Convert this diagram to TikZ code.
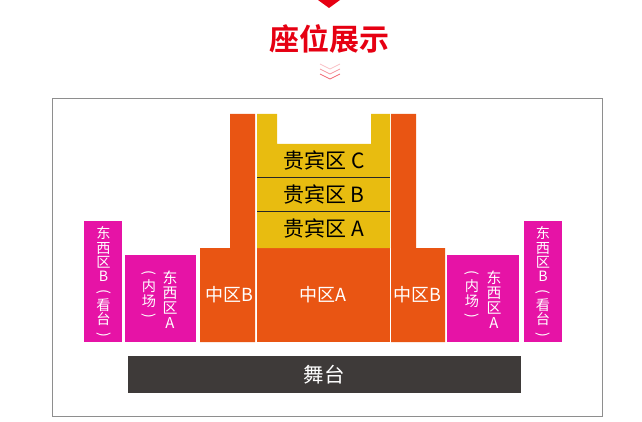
\documentclass[tikz,border=0pt]{standalone}
\usepackage{xcolor}
\usepackage{fontspec}
\setmainfont{Noto Sans CJK SC}
\newfontfamily\titlefont[BoldFont=Noto Sans CJK SC Bold]{Noto Sans CJK SC}
\usepackage{tikz}
\usetikzlibrary{positioning}
\definecolor{titlered}{HTML}{E60012}
\definecolor{zoneorange}{HTML}{E95513}
\definecolor{zonegold}{HTML}{E8BC10}
\definecolor{zonemagenta}{HTML}{E613A6}
\definecolor{stagegrey}{HTML}{3E3A39}
\definecolor{framegrey}{HTML}{8E8E8E}
\newcommand{\vopen}{\smash{\rotatebox[origin=c]{-90}{(}}}
\newcommand{\vclose}{\smash{\rotatebox[origin=c]{-90}{)}}}
\newcommand{\tightlines}{\lineskiplimit=-20pt\relax}
\tikzset{
	seatlabel/.style={text=white, inner sep=0pt, align=center, font=\fontsize{14.2}{14.3}\selectfont\tightlines},
	widelabel/.style={seatlabel, font=\fontsize{14.9}{15}\selectfont\tightlines},
	midlabel/.style={text=white, inner sep=0pt, font=\fontsize{18}{20}\selectfont},
	goldlabel/.style={text=black, inner sep=0pt, font=\fontsize{21}{23}\selectfont},
}
\begin{document}
\begin{tikzpicture}[x=1pt, y=-1pt]
			\useasboundingbox (0,0) rectangle (642,422);
			\pgfmathsetmacro{\floory}{342}
			\pgfmathsetmacro{\towery}{114}
			% top marker, title and chevrons
			\fill[titlered] (318,0) -- ++(22,0) -- ++(-11,8) -- cycle;
			\node[inner sep=0pt, text=titlered, font=\titlefont\fontsize{30}{32}\selectfont\bfseries] (title) at (329.5,39) {座位展示};
			\foreach \chevy/\chevop in {64/0.25, 69/0.4, 74/0.6} {
				\draw[titlered, opacity=\chevop, line width=0.7pt] (320,\chevy) -- ++(10,5) -- ++(10,-5);
			}
			\draw[framegrey, line width=0.9pt] (52,98) rectangle (602,416);
			% east-west zones
			\fill[zonemagenta] (84,221) rectangle (122,\floory);
			\fill[zonemagenta] (124.5,255) rectangle (196,\floory);
			\fill[zonemagenta] (447,255) rectangle (519,\floory);
			\fill[zonemagenta] (524,221) rectangle (562,\floory);
			% middle zones
			\fill[zoneorange] (200,\floory) -- (200,248) -- (230,248) -- (230,\towery) -- (255,\towery) -- (255,\floory) -- cycle;
			\fill[zoneorange] (391,\floory) -- (391,\towery) -- (416,\towery) -- (416,248) -- (445,248) -- (445,\floory) -- cycle;
			\fill[zoneorange] (257,248) rectangle (390,\floory);
			% guest zones
			\fill[zonegold] (257,248) -- (257,\towery) -- (277,\towery) -- (277,144) -- (371,144) -- (371,\towery) -- (390,\towery) -- (390,248) -- cycle;
			\draw[black!85, line width=0.6pt] (257,177) -- (390,177);
			\draw[black!85, line width=0.6pt] (257,211) -- (390,211);
			\fill[stagegrey] (128,356) rectangle (521,393);
			% labels
			\node[goldlabel] (guestc) at (324,160.5) {贵宾区 C};
			\node[goldlabel] (guestb) at (324,194.5) {贵宾区 B};
			\node[goldlabel] (guesta) at (324,228.5) {贵宾区 A};
			\node[midlabel] (midbl) at (229,295) {中区B};
			\node[midlabel] (mida) at (323,295) {中区A};
			\node[midlabel] (midbr) at (417,295) {中区B};
			\node[midlabel, font=\fontsize{20.5}{22}\selectfont] (stage) at (324,375) {舞台};
			\node[seatlabel] (eastbl) at (103.5,283) {东\\西\\区\\B\\\vopen\\看\\台\\\vclose};
			\node[seatlabel] (eastbr) at (543,283) {东\\西\\区\\B\\\vopen\\看\\台\\\vclose};
			\node[widelabel] (eastal) at (170,299.5) {东\\西\\区\\A};
			\node[seatlabel] (innerl) at (149,299) {\vopen\\内\\场\\\vclose};
			\node[widelabel] (eastar) at (494,299.5) {东\\西\\区\\A};
			\node[seatlabel] (innerr) at (472,299) {\vopen\\内\\场\\\vclose};
			\end{tikzpicture}
\end{document}
